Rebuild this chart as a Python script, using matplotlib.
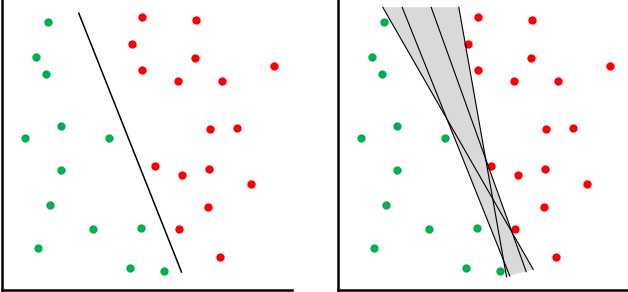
import numpy as np
import matplotlib.pyplot as plt

# point positions (same set in both panels)
green_x = [45.8, 34.2, 43.8, 59.2, 23.2, 107.2, 59.2, 47.5, 90.8, 139.2, 36.2, 127.8, 161.5]
green_y = [267.8, 232.5, 215.5, 163.8, 151.8, 151.8, 119.5, 84.2, 60.2, 61.2, 41.5, 21.5, 18.8]
red_x = [139.5, 193.8, 130.2, 192.8, 140.2, 271.5, 175.5, 219.8, 207.5, 234.5,
         152.8, 179.5, 206.8, 248.8, 205.8, 176.8, 217.5]
red_y = [272.5, 269.2, 245.5, 231.2, 219.8, 223.8, 208.2, 208.2, 160.2, 161.8,
         123.8, 114.5, 120.8, 105.8, 82.8, 60.2, 32.8]

# single separating line (left panel)
sep_x = [76.8, 179.5]
sep_y = [276.2, 17.5]

# several candidate lines (right panel): start / end points
cand_x0 = [44.8, 64.2, 93.2, 120.8]
cand_y0 = [282.2, 282.2, 282.2, 282.2]
cand_x1 = [195.2, 171.8, 188.2, 168.5]
cand_y1 = [20.2, 13.5, 17.8, 12.8]

W, H = 628, 292
fig = plt.figure(figsize=(W / 100, H / 100), dpi=100)
ax1 = fig.add_axes([2 / W, 2.5 / H, 289.5 / W, 289.5 / H])
ax2 = fig.add_axes([338 / W, 2.5 / H, 289.5 / W, 289.5 / H])

for ax in (ax1, ax2):
    ax.set_xlim(0, 289.5)
    ax.set_ylim(0, 289.5)
    ax.set_xticks([])
    ax.set_yticks([])
    for s in ['top', 'right']:
        ax.spines[s].set_visible(False)
    for s in ['left', 'bottom']:
        ax.spines[s].set_linewidth(1.8)
        ax.spines[s].set_color('black')
    ax.scatter(green_x, green_y, s=36, color='#00b050', linewidths=0, zorder=3)
    ax.scatter(red_x, red_y, s=36, color='#ff0000', linewidths=0, zorder=3)

ax1.plot(sep_x, sep_y, color='black', lw=1.1, zorder=4)

# shaded envelope of the candidate lines
slopes = [(x1 - x0) / (y1 - y0) for x0, y0, x1, y1 in zip(cand_x0, cand_y0, cand_x1, cand_y1)]
def xs_at(y):
    return np.array([x0 + k * (y - y0) for x0, y0, k in zip(cand_x0, cand_y0, slopes)])

yr = np.linspace(cand_y0[0], cand_y1[int(np.argmax(cand_x1))], 200)
yl = np.linspace(cand_y1[int(np.argmin(cand_x1))], cand_y0[0], 200)
right = [xs_at(y).max() for y in yr]
left = [xs_at(y).min() for y in yl]
ax2.fill(list(right) + list(left), list(yr) + list(yl), color='#d9d9d9', lw=0, zorder=1)

for x0, y0, x1, y1 in zip(cand_x0, cand_y0, cand_x1, cand_y1):
    ax2.plot([x0, x1], [y0, y1], color='black', lw=0.8, zorder=4)

fig.savefig('out.png', dpi=100)
